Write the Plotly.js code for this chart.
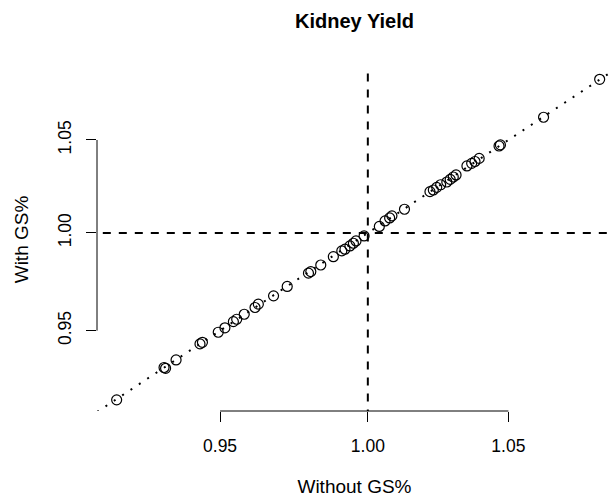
<!DOCTYPE html>
<html><head><meta charset="utf-8">
<script src="https://cdn.plot.ly/plotly-3.0.1.min.js"></script>
<style>html,body{margin:0;padding:0;background:#fff}</style>
</head><body><div id="chart" style="width:612px;height:497px"></div>
<script>
// Ratio without GS% (x) vs with GS% (y)
const withoutGS = [0.9165, 0.9317, 0.9322, 0.9356, 0.9434, 0.9442, 0.9494, 0.9516, 0.9544, 0.9555,
  0.9580, 0.9616, 0.9627, 0.9678, 0.9724, 0.9796, 0.9804, 0.9838, 0.9881, 0.9910,
  0.9921, 0.9938, 0.9950, 0.9959, 0.9987, 1.0040, 1.0060, 1.0076, 1.0084, 1.0128,
  1.0218, 1.0230, 1.0242, 1.0256, 1.0278, 1.0290, 1.0301, 1.0311, 1.0350, 1.0367,
  1.0379, 1.0394, 1.0466, 1.0471, 1.0629, 1.0838];
const withGS = [0.9161, 0.9318, 0.9314, 0.9355, 0.9434, 0.9442, 0.9492, 0.9514, 0.9545, 0.9557,
  0.9582, 0.9616, 0.9633, 0.9675, 0.9723, 0.9791, 0.9799, 0.9833, 0.9876, 0.9906,
  0.9915, 0.9932, 0.9946, 0.9958, 0.9984, 1.0034, 1.0063, 1.0079, 1.0090, 1.0125,
  1.0219, 1.0228, 1.0242, 1.0256, 1.0271, 1.0285, 1.0298, 1.0309, 1.0358, 1.0372,
  1.0382, 1.0399, 1.0467, 1.0473, 1.0626, 1.0840];
const tickVals = [0.95, 1.00, 1.05];
const tickText = ['0.95', '1.00', '1.05'];
const refValue = 1.0;

const xRange = [-0.04083, 0.03681];
const yRange = [-0.0406, 0.0376];
const xLo = Math.pow(10, xRange[0]) * 0.98, xHi = Math.pow(10, xRange[1]) * 1.02;
const yLo = Math.pow(10, yRange[0]) * 0.98, yHi = Math.pow(10, yRange[1]) * 1.02;
const lo = Math.min(xLo, yLo), hi = Math.max(xHi, yHi);

const font = 'Liberation Sans, Arial, Helvetica, sans-serif';

const traces = [
  {x: [lo, hi], y: [lo, hi], mode: 'lines', hoverinfo: 'skip', showlegend: false,
   line: {color: '#000', width: 2, dash: '2px,8px'}},
  {x: [refValue, refValue], y: [yLo, yHi], mode: 'lines', hoverinfo: 'skip', showlegend: false,
   line: {color: '#000', width: 2, dash: '8px,8px'}},
  {x: [xLo, xHi], y: [refValue, refValue], mode: 'lines', hoverinfo: 'skip', showlegend: false,
   line: {color: '#000', width: 2, dash: '8px,8px'}},
  {x: withoutGS, y: withGS, mode: 'markers', showlegend: false,
   marker: {symbol: 'circle-open', size: 10, color: '#000', line: {width: 1.2, color: '#000'}}}
];

const layout = {
  width: 612, height: 497,
  margin: {l: 97, r: 0, t: 68, b: 86},
  paper_bgcolor: '#fff', plot_bgcolor: '#fff',
  font: {family: font, color: '#000', size: 17.5},
  title: {text: '<b>Kidney Yield</b>', font: {family: font, size: 20, color: '#000'},
          x: 0.5, xref: 'paper', y: 1 - 21/497, yref: 'container', yanchor: 'middle'},
  xaxis: {type: 'log', range: xRange, tickvals: tickVals, ticktext: tickText,
          ticks: 'outside', ticklen: 10, tickwidth: 1, tickcolor: '#000',
          showline: false, showgrid: false, zeroline: false, ticklabelstandoff: 9,
          tickfont: {family: font, size: 17.5, color: '#000'},
          title: {text: 'Without GS%', font: {family: font, size: 19, color: '#000'}, standoff: 26}},
  yaxis: {type: 'log', range: yRange, tickvals: tickVals, ticktext: tickText, tickangle: -90,
          ticks: 'outside', ticklen: 10, tickwidth: 1, tickcolor: '#000',
          showline: false, showgrid: false, zeroline: false, ticklabelstandoff: 8,
          tickfont: {family: font, size: 17.5, color: '#000'},
          title: {text: 'With GS%', font: {family: font, size: 19, color: '#000'}, standoff: 21}},
  shapes: [
    {type: 'line', xref: 'x', yref: 'paper', x0: tickVals[0], x1: tickVals[tickVals.length-1], y0: 0, y1: 0,
     line: {color: '#000', width: 1}},
    {type: 'line', xref: 'paper', yref: 'y', x0: 0, x1: 0, y0: tickVals[0], y1: tickVals[tickVals.length-1],
     line: {color: '#000', width: 1}}
  ]
};

Plotly.newPlot('chart', traces, layout, {staticPlot: true, displayModeBar: false});
</script>
</body></html>
